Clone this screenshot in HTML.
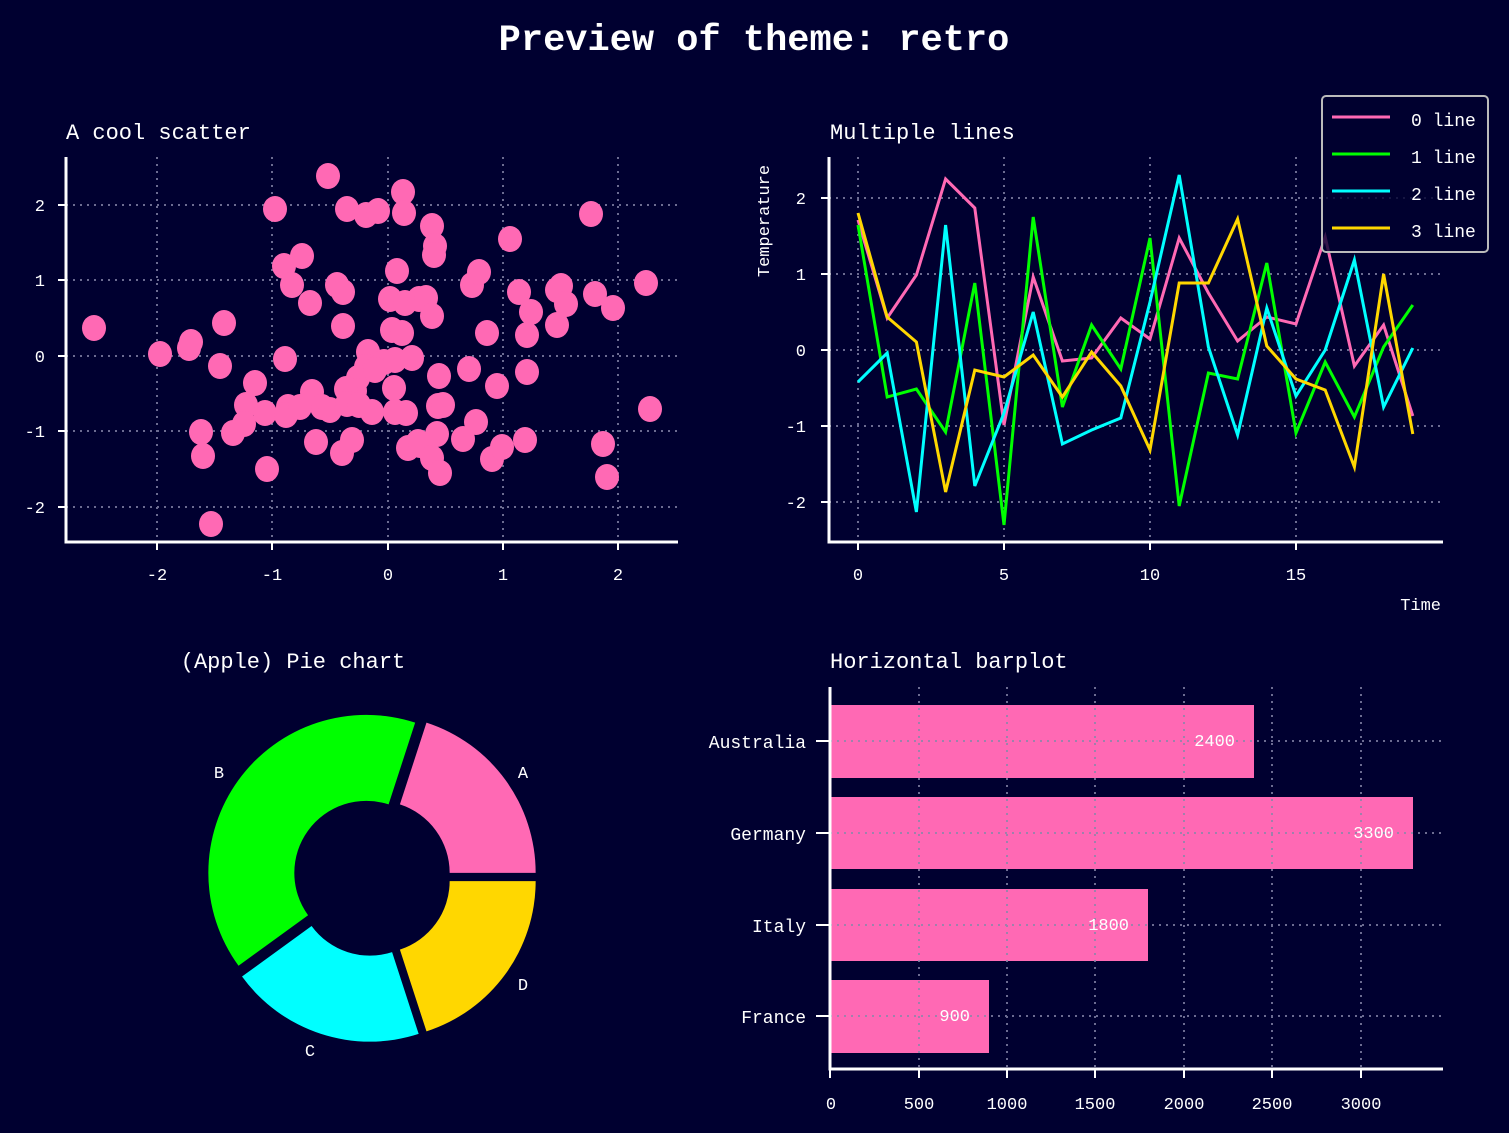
<!DOCTYPE html>
<html><head><meta charset="utf-8"><style>
html,body{margin:0;padding:0;background:#000030;}
svg{display:block;}
text{font-family:"Liberation Mono",monospace;fill:#fff;}
.g{stroke:#8888aa;stroke-width:2;stroke-dasharray:2,5;fill:none;opacity:.8}
.ax{stroke:#fff;stroke-width:3;fill:none}
.tk{stroke:#fff;stroke-width:2}
.t{font-size:17px}
</style></head><body>
<svg width="1509" height="1133" viewBox="0 0 1509 1133" xmlns="http://www.w3.org/2000/svg">
<rect width="1509" height="1133" fill="#000030"/>
<text x="754" y="50" font-size="37" font-weight="bold" text-anchor="middle">Preview of theme: retro</text>

<!-- Scatter -->
<text x="66" y="139" font-size="22">A cool scatter</text>
<g class="g">
<line x1="157" y1="157" x2="157" y2="542"/><line x1="272" y1="157" x2="272" y2="542"/><line x1="388" y1="157" x2="388" y2="542"/><line x1="503" y1="157" x2="503" y2="542"/><line x1="618" y1="157" x2="618" y2="542"/>
<line x1="66" y1="205" x2="678" y2="205"/><line x1="66" y1="280" x2="678" y2="280"/><line x1="66" y1="356" x2="678" y2="356"/><line x1="66" y1="431" x2="678" y2="431"/><line x1="66" y1="507" x2="678" y2="507"/>
</g>
<g fill="#ff69b4">
<g id="pts">
<ellipse cx="94" cy="328" rx="12" ry="13"/><ellipse cx="160" cy="354" rx="12" ry="13"/><ellipse cx="189" cy="348" rx="12" ry="13"/><ellipse cx="191" cy="342" rx="12" ry="13"/><ellipse cx="224" cy="323" rx="12" ry="13"/><ellipse cx="220" cy="366" rx="12" ry="13"/><ellipse cx="255" cy="383" rx="12" ry="13"/><ellipse cx="246" cy="405" rx="12" ry="13"/><ellipse cx="244" cy="424" rx="12" ry="13"/><ellipse cx="265" cy="413" rx="12" ry="13"/><ellipse cx="201" cy="432" rx="12" ry="13"/><ellipse cx="203" cy="456" rx="12" ry="13"/><ellipse cx="211" cy="524" rx="12" ry="13"/><ellipse cx="267" cy="469" rx="12" ry="13"/><ellipse cx="275" cy="209" rx="12" ry="13"/><ellipse cx="284" cy="266" rx="12" ry="13"/><ellipse cx="292" cy="285" rx="12" ry="13"/><ellipse cx="302" cy="256" rx="12" ry="13"/><ellipse cx="310" cy="303" rx="12" ry="13"/><ellipse cx="285" cy="359" rx="12" ry="13"/><ellipse cx="288" cy="407" rx="12" ry="13"/><ellipse cx="286" cy="415" rx="12" ry="13"/><ellipse cx="312" cy="392" rx="12" ry="13"/><ellipse cx="322" cy="407" rx="12" ry="13"/><ellipse cx="316" cy="442" rx="12" ry="13"/><ellipse cx="330" cy="410" rx="12" ry="13"/><ellipse cx="342" cy="453" rx="12" ry="13"/><ellipse cx="352" cy="440" rx="12" ry="13"/><ellipse cx="337" cy="285" rx="12" ry="13"/><ellipse cx="343" cy="292" rx="12" ry="13"/><ellipse cx="343" cy="326" rx="12" ry="13"/><ellipse cx="347" cy="209" rx="12" ry="13"/><ellipse cx="366" cy="215" rx="12" ry="13"/><ellipse cx="378" cy="211" rx="12" ry="13"/><ellipse cx="403" cy="192" rx="12" ry="13"/><ellipse cx="404" cy="213" rx="12" ry="13"/><ellipse cx="432" cy="226" rx="12" ry="13"/><ellipse cx="435" cy="246" rx="12" ry="13"/><ellipse cx="434" cy="255" rx="12" ry="13"/><ellipse cx="397" cy="271" rx="12" ry="13"/><ellipse cx="390" cy="299" rx="12" ry="13"/><ellipse cx="405" cy="303" rx="12" ry="13"/><ellipse cx="419" cy="299" rx="12" ry="13"/><ellipse cx="426" cy="298" rx="12" ry="13"/><ellipse cx="432" cy="316" rx="12" ry="13"/><ellipse cx="392" cy="330" rx="12" ry="13"/><ellipse cx="402" cy="333" rx="12" ry="13"/><ellipse cx="368" cy="352" rx="12" ry="13"/><ellipse cx="366" cy="367" rx="12" ry="13"/><ellipse cx="384" cy="362" rx="12" ry="13"/><ellipse cx="395" cy="360" rx="12" ry="13"/><ellipse cx="412" cy="358" rx="12" ry="13"/><ellipse cx="358" cy="378" rx="12" ry="13"/><ellipse cx="355" cy="391" rx="12" ry="13"/><ellipse cx="346" cy="389" rx="12" ry="13"/><ellipse cx="347" cy="404" rx="12" ry="13"/><ellipse cx="372" cy="412" rx="12" ry="13"/><ellipse cx="394" cy="388" rx="12" ry="13"/><ellipse cx="406" cy="413" rx="12" ry="13"/><ellipse cx="418" cy="442" rx="12" ry="13"/><ellipse cx="408" cy="448" rx="12" ry="13"/><ellipse cx="420" cy="445" rx="12" ry="13"/><ellipse cx="432" cy="458" rx="12" ry="13"/><ellipse cx="440" cy="473" rx="12" ry="13"/><ellipse cx="437" cy="434" rx="12" ry="13"/><ellipse cx="438" cy="406" rx="12" ry="13"/><ellipse cx="439" cy="376" rx="12" ry="13"/><ellipse cx="443" cy="405" rx="12" ry="13"/><ellipse cx="469" cy="369" rx="12" ry="13"/><ellipse cx="472" cy="285" rx="12" ry="13"/><ellipse cx="479" cy="272" rx="12" ry="13"/><ellipse cx="487" cy="333" rx="12" ry="13"/><ellipse cx="497" cy="386" rx="12" ry="13"/><ellipse cx="476" cy="422" rx="12" ry="13"/><ellipse cx="463" cy="439" rx="12" ry="13"/><ellipse cx="492" cy="459" rx="12" ry="13"/><ellipse cx="502" cy="447" rx="12" ry="13"/><ellipse cx="525" cy="440" rx="12" ry="13"/><ellipse cx="510" cy="239" rx="12" ry="13"/><ellipse cx="519" cy="292" rx="12" ry="13"/><ellipse cx="531" cy="312" rx="12" ry="13"/><ellipse cx="527" cy="335" rx="12" ry="13"/><ellipse cx="527" cy="372" rx="12" ry="13"/><ellipse cx="557" cy="290" rx="12" ry="13"/><ellipse cx="561" cy="286" rx="12" ry="13"/><ellipse cx="566" cy="304" rx="12" ry="13"/><ellipse cx="557" cy="325" rx="12" ry="13"/><ellipse cx="591" cy="214" rx="12" ry="13"/><ellipse cx="595" cy="294" rx="12" ry="13"/><ellipse cx="613" cy="308" rx="12" ry="13"/><ellipse cx="646" cy="283" rx="12" ry="13"/><ellipse cx="603" cy="444" rx="12" ry="13"/><ellipse cx="607" cy="477" rx="12" ry="13"/><ellipse cx="650" cy="409" rx="12" ry="13"/><ellipse cx="359" cy="405" rx="12" ry="13"/><ellipse cx="395" cy="412" rx="12" ry="13"/><ellipse cx="375" cy="370" rx="12" ry="13"/><ellipse cx="300" cy="407" rx="12" ry="13"/><ellipse cx="233" cy="433" rx="12" ry="13"/><ellipse cx="328" cy="176" rx="12" ry="13"/>
</g></g>
<path class="ax" d="M66 157 V542 H678"/>
<g class="tk"><line x1="157" y1="542" x2="157" y2="550"/><line x1="272" y1="542" x2="272" y2="550"/><line x1="388" y1="542" x2="388" y2="550"/><line x1="503" y1="542" x2="503" y2="550"/><line x1="618" y1="542" x2="618" y2="550"/>
<line x1="58" y1="205" x2="66" y2="205"/><line x1="58" y1="280" x2="66" y2="280"/><line x1="58" y1="356" x2="66" y2="356"/><line x1="58" y1="431" x2="66" y2="431"/><line x1="58" y1="507" x2="66" y2="507"/></g>
<g class="t" text-anchor="middle"><text x="157" y="580">-2</text><text x="272" y="580">-1</text><text x="388" y="580">0</text><text x="503" y="580">1</text><text x="618" y="580">2</text></g>
<g class="t" text-anchor="end"><text x="45" y="211">2</text><text x="45" y="286">1</text><text x="45" y="362">0</text><text x="45" y="437">-1</text><text x="45" y="513">-2</text></g>

<!-- Lines -->
<text x="830" y="139" font-size="22">Multiple lines</text>
<g class="g">
<line x1="858" y1="157" x2="858" y2="542"/><line x1="1004" y1="157" x2="1004" y2="542"/><line x1="1150" y1="157" x2="1150" y2="542"/><line x1="1296" y1="157" x2="1296" y2="542"/>
<line x1="829" y1="198" x2="1443" y2="198"/><line x1="829" y1="274" x2="1443" y2="274"/><line x1="829" y1="350" x2="1443" y2="350"/><line x1="829" y1="426" x2="1443" y2="426"/><line x1="829" y1="502" x2="1443" y2="502"/>
</g>
<g fill="none" stroke-width="3" stroke-linejoin="miter">
<polyline stroke="#ff69b4" points="858,220 887.2,318 916.4,275 945.6,179 974.8,208 1004,425 1033.2,277 1062.4,361 1091.6,358 1120.8,318 1150,339 1179.2,238 1208.4,293 1237.6,341 1266.8,317 1296,324 1325.2,237 1354.4,366 1383.6,325 1412.8,416"/>
<polyline stroke="#00ff00" points="858,225 887.2,397 916.4,389 945.6,432 974.8,283 1004,525 1033.2,217 1062.4,407 1091.6,325 1120.8,369 1150,238 1179.2,506 1208.4,373 1237.6,379 1266.8,263 1296,433 1325.2,362 1354.4,417 1383.6,347 1412.8,305"/>
<polyline stroke="#00ffff" points="858,382 887.2,353 916.4,512 945.6,225 974.8,486 1004,413 1033.2,312 1062.4,444 1091.6,430 1120.8,418 1150,302 1179.2,175 1208.4,347 1237.6,435 1266.8,308 1296,396 1325.2,350 1354.4,260 1383.6,407 1412.8,348"/>
<polyline stroke="#ffd700" points="858,213 887.2,317 916.4,342 945.6,492 974.8,370 1004,377 1033.2,355 1062.4,397 1091.6,352 1120.8,386 1150,450 1179.2,283 1208.4,283 1237.6,219 1266.8,346 1296,379 1325.2,390 1354.4,467 1383.6,274 1412.8,434"/>
</g>
<path class="ax" d="M829 157 V542 H1443"/>
<g class="tk"><line x1="858" y1="542" x2="858" y2="550"/><line x1="1004" y1="542" x2="1004" y2="550"/><line x1="1150" y1="542" x2="1150" y2="550"/><line x1="1296" y1="542" x2="1296" y2="550"/>
<line x1="821" y1="198" x2="829" y2="198"/><line x1="821" y1="274" x2="829" y2="274"/><line x1="821" y1="350" x2="829" y2="350"/><line x1="821" y1="426" x2="829" y2="426"/><line x1="821" y1="502" x2="829" y2="502"/></g>
<g class="t" text-anchor="middle"><text x="858" y="580">0</text><text x="1004" y="580">5</text><text x="1150" y="580">10</text><text x="1296" y="580">15</text></g>
<g class="t" text-anchor="end"><text x="806" y="204">2</text><text x="806" y="280">1</text><text x="806" y="356">0</text><text x="806" y="432">-1</text><text x="806" y="508">-2</text></g>
<text class="t" x="1441" y="610" text-anchor="end">Time</text>
<text class="t" transform="translate(769,221) rotate(-90)" text-anchor="middle">Temperature</text>
<rect x="1322" y="96" width="166" height="156" rx="4" fill="#000030" fill-opacity="0.8" stroke="#bbbbbb" stroke-width="2"/>
<g stroke-width="3"><line x1="1332" y1="117" x2="1390" y2="117" stroke="#ff69b4"/><line x1="1332" y1="154" x2="1390" y2="154" stroke="#00ff00"/><line x1="1332" y1="191" x2="1390" y2="191" stroke="#00ffff"/><line x1="1332" y1="228" x2="1390" y2="228" stroke="#ffd700"/></g>
<g font-size="18"><text x="1411" y="126">0 line</text><text x="1411" y="163">1 line</text><text x="1411" y="200">2 line</text><text x="1411" y="237">3 line</text></g>

<!-- Pie -->
<text x="293" y="668" font-size="22" text-anchor="middle">(Apple) Pie chart</text>
<path fill="#ff69b4" d="M535.66 872.89 A158 158 0 0 0 426.48 722.62 L399.91 804.41 A72 72 0 0 1 449.66 872.89 Z"/>
<path fill="#00ff00" d="M415.16 722.62 A158 158 0 0 0 238.52 965.76 L308.09 915.23 A72 72 0 0 1 388.59 804.41 Z"/>
<path fill="#00ffff" d="M242.02 976.53 A158 158 0 0 0 418.66 1033.93 L392.09 952.14 A72 72 0 0 1 311.59 926.0 Z"/>
<path fill="#ffd700" d="M426.48 1031.38 A158 158 0 0 0 535.66 881.11 L449.66 881.11 A72 72 0 0 1 399.91 949.59 Z"/>
<g class="t" text-anchor="middle"><text x="219" y="778">B</text><text x="523" y="778">A</text><text x="310" y="1056">C</text><text x="523" y="990">D</text></g>

<!-- Bars -->
<text x="830" y="668" font-size="22">Horizontal barplot</text>
<g fill="#ff69b4">
<rect x="831" y="705" width="423" height="73"/><rect x="831" y="797" width="582" height="72"/><rect x="831" y="889" width="317" height="72"/><rect x="831" y="980" width="158" height="73"/>
</g>
<g class="g">
<line x1="919" y1="687" x2="919" y2="1069"/><line x1="1007" y1="687" x2="1007" y2="1069"/><line x1="1095" y1="687" x2="1095" y2="1069"/><line x1="1184" y1="687" x2="1184" y2="1069"/><line x1="1272" y1="687" x2="1272" y2="1069"/><line x1="1361" y1="687" x2="1361" y2="1069"/>
<line x1="830" y1="741" x2="1443" y2="741"/><line x1="830" y1="833" x2="1443" y2="833"/><line x1="830" y1="925" x2="1443" y2="925"/><line x1="830" y1="1016" x2="1443" y2="1016"/>
</g>
<g class="t" text-anchor="end"><text x="1235" y="746">2400</text><text x="1394" y="838">3300</text><text x="1129" y="930">1800</text><text x="970" y="1021">900</text></g>
<path class="ax" d="M830 687 V1069 H1443"/>
<g class="tk"><line x1="830" y1="1069" x2="830" y2="1078"/><line x1="919" y1="1069" x2="919" y2="1078"/><line x1="1007" y1="1069" x2="1007" y2="1078"/><line x1="1095" y1="1069" x2="1095" y2="1078"/><line x1="1184" y1="1069" x2="1184" y2="1078"/><line x1="1272" y1="1069" x2="1272" y2="1078"/><line x1="1361" y1="1069" x2="1361" y2="1078"/>
<line x1="816" y1="741" x2="830" y2="741"/><line x1="816" y1="833" x2="830" y2="833"/><line x1="816" y1="925" x2="830" y2="925"/><line x1="816" y1="1016" x2="830" y2="1016"/></g>
<g class="t" text-anchor="middle"><text x="831" y="1109">0</text><text x="919" y="1109">500</text><text x="1007" y="1109">1000</text><text x="1095" y="1109">1500</text><text x="1184" y="1109">2000</text><text x="1272" y="1109">2500</text><text x="1361" y="1109">3000</text></g>
<g font-size="18" text-anchor="end"><text x="806" y="748">Australia</text><text x="806" y="840">Germany</text><text x="806" y="932">Italy</text><text x="806" y="1023">France</text></g>
</svg>
</body></html>
